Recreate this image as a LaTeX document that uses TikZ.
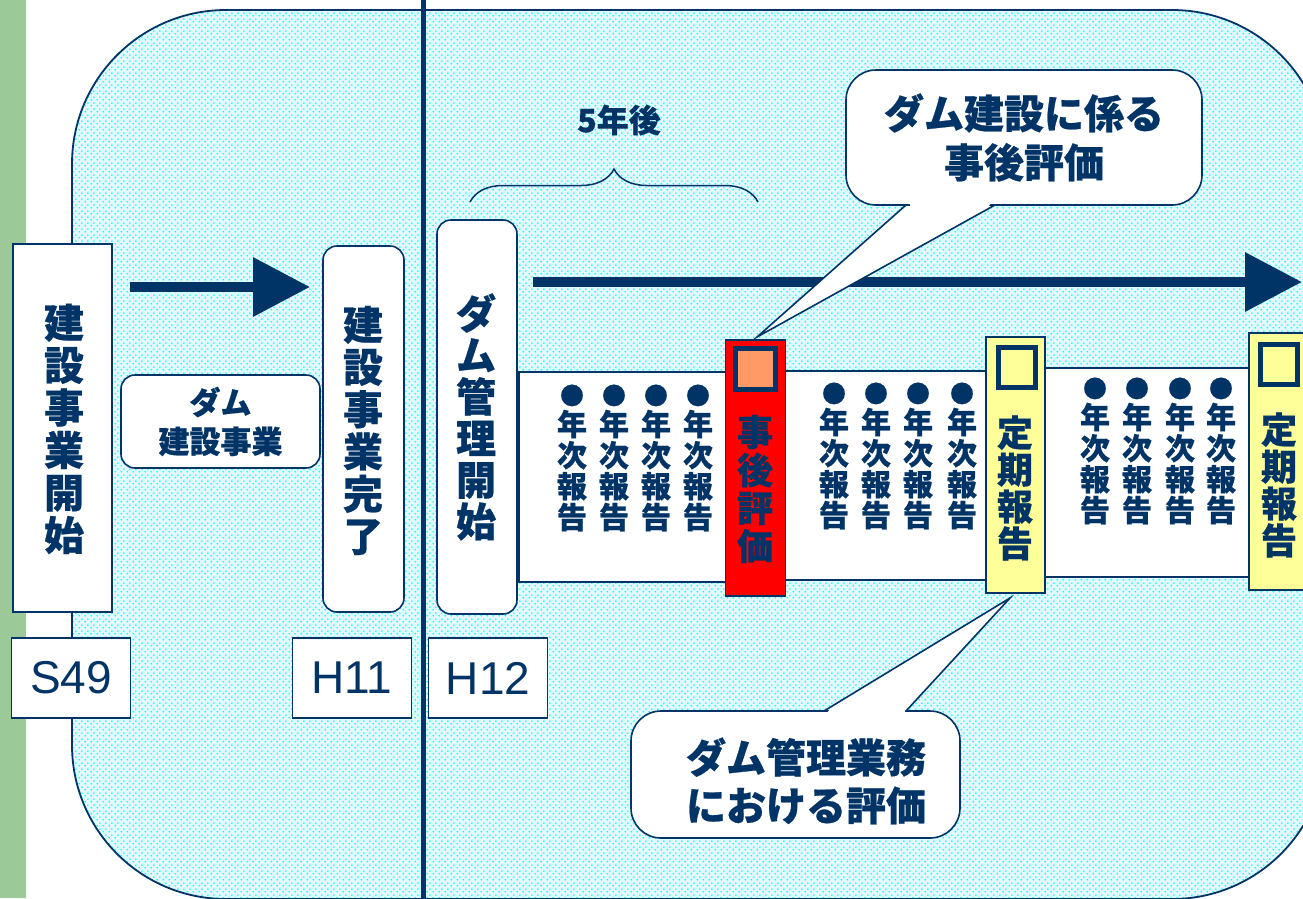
\documentclass[tikz,border=0pt]{standalone}
\usepackage{fontspec}
\setmainfont{Liberation Sans}
\newfontfamily\jp{Noto Sans CJK JP}[BoldFeatures={FakeBold=0.6}]
\usetikzlibrary{patterns,arrows.meta,decorations.pathreplacing}
\definecolor{navy}{RGB}{0,51,102}
\definecolor{greenbar}{RGB}{155,202,152}
\definecolor{dotcyan}{RGB}{0,255,255}
\definecolor{bgcyan}{RGB}{222,251,253}
\definecolor{paleyellow}{RGB}{255,255,153}
\definecolor{salmon}{RGB}{255,153,102}
\newcommand\jpfont[2]{\jp\bfseries\fontsize{#1}{#2}\selectfont}
\newcommand\dotmark{{\fontsize{24}{31}\selectfont ●}}
\pgfdeclarepatternformonly{cyandots}{\pgfpoint{0pt}{0pt}}{\pgfpoint{6pt}{6pt}}{\pgfpoint{6pt}{6pt}}{%
  \pgfpathcircle{\pgfpoint{1.5pt}{1.5pt}}{1pt}%
  \pgfpathcircle{\pgfpoint{4.5pt}{4.5pt}}{1pt}%
  \pgfusepath{fill}}
\begin{document}
\begin{tikzpicture}[x=1pt,y=-1pt,
  sqbox/.style={draw=navy,line width=1.6pt,fill=white,inner sep=0pt},
  rbox/.style={sqbox,rounded corners=14pt},
  vtext/.style={text=navy,align=center,inner sep=0pt},
  yearbox/.style={sqbox,minimum width=119pt,minimum height=80pt,text=navy,font=\fontsize{46}{50}\selectfont},
  col/.style={vtext,font={\jpfont{30}{31}}},
  markbox/.style={draw=navy,line width=5pt,minimum width=40pt,minimum height=41pt,inner sep=0pt},
  callbox/.style={draw=navy,line width=1.6pt,fill=white,rounded corners=30pt,inner sep=0pt},
  calltail/.style={draw=navy,line width=1.6pt,fill=white,line join=miter},
  bigarrow/.style={draw=navy,line width=10pt}
]
\useasboundingbox (0,0) rectangle (1303,898);
\clip (0,0) rectangle (1303,898);
% background
\fill[greenbar] (0,0) rectangle (26,898);
\path[fill=bgcyan,postaction={pattern=cyandots,pattern color=dotcyan},
      postaction={draw=navy,line width=1.8pt},rounded corners=154pt]
  (72,10) rectangle (1326,899);
\draw[navy,line width=5pt] (423,-5) -- (423,905);

% construction phase
\node[sqbox,minimum width=99pt,minimum height=368pt] (start) at (62.5,428) {};
\node[vtext,font={\jpfont{40}{42.5}}] (starttxt) at (64,429) {建\\設\\事\\業\\開\\始};
\node[rbox,minimum width=81pt,minimum height=366pt] (done) at (363.5,429) {};
\node[vtext,font={\jpfont{40}{42.3}}] (donetxt) at (363,430.5) {建\\設\\事\\業\\完\\了};
\node[rbox,minimum width=199pt,minimum height=93pt,text=navy,align=center,font={\jpfont{31}{39}}] (damken) at (220.5,421.5) {ダム\\建設事業};
\coordinate (a1s) at (130,287);
\coordinate (a1e) at (310,287);
\draw[bigarrow,-{Triangle[length=57pt,width=57pt]}] (a1s) -- (a1e);

% year boxes
\node[yearbox] (s49) at (71,678) {S49};
\node[yearbox] (h11) at (352,678) {H11};
\node[yearbox] (h12) at (488,678) {H12};

% management phase
\node[rbox,minimum width=80pt,minimum height=394pt] (kanri) at (477,417) {};
\node[vtext,font={\jpfont{40}{41.6}}] (kanritxt) at (476,417) {ダ\\ム\\管\\理\\開\\始};

\draw[navy,line width=1.5pt,decorate,decoration={brace,amplitude=33pt}] (470,202) -- (758,202);
\node[text=navy,font={\jpfont{32}{36}}] (fiveyr) at (619,120) {5年後};

\coordinate (a2s) at (533,282);
\coordinate (a2e) at (1302,282);
\draw[bigarrow,-{Triangle[length=57pt,width=57pt]}] (a2s) -- (a2e);

% bands of annual reports
\node[sqbox,minimum width=208pt,minimum height=210pt] (band1) at (623,477) {};
\node[sqbox,minimum width=203pt,minimum height=209pt] (band2) at (886.5,475.5) {};
\node[sqbox,minimum width=206pt,minimum height=209pt] (band3) at (1147,472.5) {};
\foreach \x [count=\i] in {572,614,656,698}
  \node[col] (ra\i) at (\x,458) {\dotmark\\年\\次\\報\\告};
\foreach \x [count=\i] in {834,876,918,962}
  \node[col] (rb\i) at (\x,456) {\dotmark\\年\\次\\報\\告};
\foreach \x [count=\i] in {1095,1137,1180,1221}
  \node[col] (rc\i) at (\x,451) {\dotmark\\年\\次\\報\\告};

% post evaluation (red)
\node[sqbox,fill=red,minimum width=60pt,minimum height=256pt] (post) at (755.5,468) {};
\node[markbox,fill=salmon] (postmark) at (755.5,368.5) {};
\node[vtext,font={\jpfont{36}{38}}] (posttxt) at (755,489) {事\\後\\評\\価};

% periodic reports (yellow)
\node[sqbox,fill=paleyellow,minimum width=59pt,minimum height=256pt] (per1) at (1015.5,465) {};
\node[markbox,fill=paleyellow,minimum width=37pt,minimum height=40pt] (per1mark) at (1017,367.5) {};
\node[vtext,font={\jpfont{36}{37}}] (per1txt) at (1015,488) {定\\期\\報\\告};
\node[sqbox,fill=paleyellow,minimum width=60pt,minimum height=257pt] (per2) at (1279,461.5) {};
\node[markbox,fill=paleyellow,minimum width=37pt,minimum height=40pt] (per2mark) at (1279,364.5) {};
\node[vtext,font={\jpfont{36}{37}}] (per2txt) at (1279,485) {定\\期\\報\\告};

% callout 1
\coordinate (c1a) at (906,205);
\coordinate (c1b) at (995,205);
\coordinate (c1tip) at (757,337);
\path[calltail] (c1a) -- (c1tip) -- (c1b) -- cycle;
\node[callbox,minimum width=356pt,minimum height=135pt,text=navy,align=center,font={\jpfont{40}{49}}] (call1) at (1024,137.5) {ダム建設に係る\\事後評価};
\fill[white] (909,202) -- (992,202) -- (987,208) -- (911,208) -- cycle;

% callout 2
\coordinate (c2a) at (824,711);
\coordinate (c2b) at (906,711);
\coordinate (c2tip) at (1010,598);
\path[calltail] (c2a) -- (c2tip) -- (c2b) -- cycle;
\node[callbox,minimum width=329pt,minimum height=127pt] (call2) at (795.5,774.5) {};
\fill[white] (831,708) -- (906,708) -- (904,714) -- (826,714) -- cycle;
\node[text=navy,align=center,font={\jpfont{40}{48}},inner sep=0pt] (call2txt) at (806,781) {ダム管理業務\\における評価};
\end{tikzpicture}
\end{document}
